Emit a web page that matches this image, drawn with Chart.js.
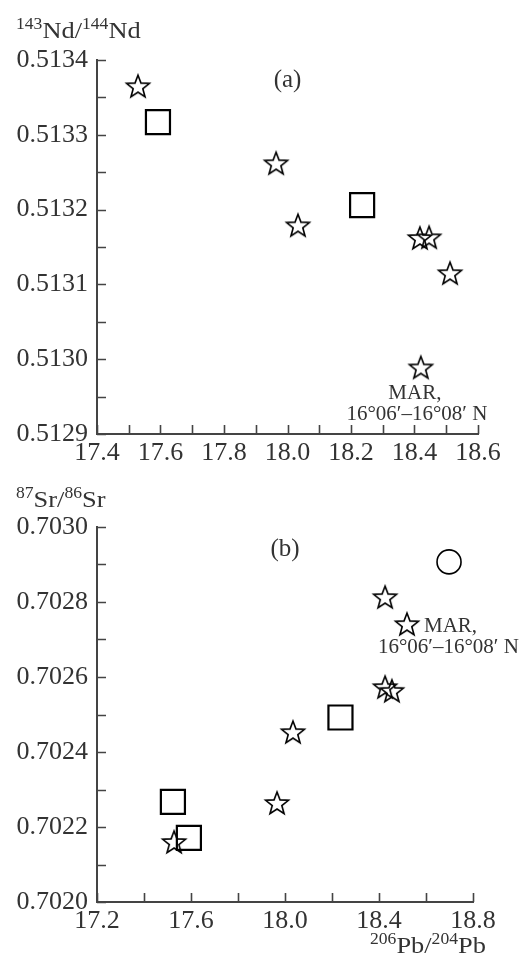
<!DOCTYPE html>
<html><head><meta charset="utf-8">
<script src="https://cdn.jsdelivr.net/npm/chart.js@4.4.0/dist/chart.umd.min.js"></script>
<style>
html,body{margin:0;padding:0;background:#fff;width:526px;height:961px;overflow:hidden}
canvas{position:absolute;left:0}
#c1{top:0}
#c2{top:480px}
</style></head><body>
<canvas id="c1" width="526" height="480"></canvas>
<canvas id="c2" width="526" height="481"></canvas>
<script>
// ---- Data: (a) 143Nd/144Nd vs 206Pb/204Pb ----
const ndStarPb  = [17.529, 17.964, 18.033, 18.417, 18.446, 18.512, 18.420];
const ndStarNd  = [0.513365, 0.513262, 0.513179, 0.513162, 0.513163, 0.513115, 0.512989];
const ndSquarePb = [17.592, 18.235];
const ndSquareNd = [0.513317, 0.513206];

// ---- Data: (b) 87Sr/86Sr vs 206Pb/204Pb ----
const srStarPb  = [18.426, 18.519, 18.426, 18.455, 18.034, 17.966, 17.528];
const srStarSr  = [0.702813, 0.702741, 0.702573, 0.702563, 0.702453, 0.702264, 0.702160];
const srSquarePb = [18.236, 17.523, 17.591];
const srSquareSr = [0.702492, 0.702267, 0.702171];
const srCirclePb = [18.698];
const srCircleSr = [0.702907];

// ---- Axis ticks ----
const ndXTicks = {min: 17.4, max: 18.6, step: 0.2, minor: 0.1};
const ndYTicks = {min: 0.5129, max: 0.5134, step: 0.0001, minor: 0.00005};
const srXTicks = {min: 17.2, max: 18.8, step: 0.4, minor: 0.2};
const srYTicks = {min: 0.7020, max: 0.7030, step: 0.0002, minor: 0.0001};

const SERIF = '"Liberation Serif", "Times New Roman", serif';
const TXT = '#333';
const AX = '#444';

function zip(xs, ys){ return xs.map((x,i)=>({x:x, y:ys[i]})); }

function makeStar(R, ratio, lw){
  const s = Math.ceil(2*R + lw*2 + 2);
  const c = document.createElement('canvas');
  c.width = s; c.height = s;
  const g = c.getContext('2d');
  g.translate(s/2, s/2 + R*0.08);
  g.beginPath();
  for (let i=0;i<10;i++){
    const a = -Math.PI/2 + i*Math.PI/5;
    const r = (i%2) ? R*ratio : R;
    const px = r*Math.cos(a), py = r*Math.sin(a);
    if (i===0) g.moveTo(px,py); else g.lineTo(px,py);
  }
  g.closePath();
  g.lineWidth = lw; g.strokeStyle = '#000'; g.lineJoin = 'miter';
  g.stroke();
  return c;
}
const starImg = makeStar(12, 0.42, 1.6);

function drawSuperText(ctx, parts, x, y, stretch){
  ctx.save();
  ctx.translate(x, y);
  ctx.scale(stretch, 1);
  ctx.fillStyle = TXT;
  ctx.textBaseline = 'alphabetic';
  ctx.textAlign = 'left';
  let cx = 0;
  for (const p of parts){
    if (p.sup){ ctx.font = '16px ' + SERIF; ctx.fillText(p.t, cx, -9); }
    else { ctx.font = '24px ' + SERIF; ctx.fillText(p.t, cx, 0); }
    cx += ctx.measureText(p.t).width;
  }
  ctx.restore();
}

const decorPlugin = {
  id: 'decor',
  afterDraw(chart, args, o){
    const ctx = chart.ctx, a = chart.chartArea, x = chart.scales.x, y = chart.scales.y;
    ctx.save();
    ctx.strokeStyle = AX; ctx.lineWidth = 1.6;
    ctx.beginPath();
    const nx = Math.round((o.xt.max - o.xt.min)/o.xt.minor);
    for (let i=0;i<=nx;i++){
      const px = Math.round(x.getPixelForValue(o.xt.min + i*o.xt.minor)) + 0.5;
      ctx.moveTo(px, a.bottom); ctx.lineTo(px, a.bottom - 9);
    }
    const ny = Math.round((o.yt.max - o.yt.min)/o.yt.minor);
    for (let i=0;i<=ny;i++){
      const py = Math.round(y.getPixelForValue(o.yt.min + i*o.yt.minor)) + 0.5;
      ctx.moveTo(a.left, py); ctx.lineTo(a.left + 9, py);
    }
    ctx.stroke();
    ctx.restore();
    // axis title (y)
    drawSuperText(ctx, o.yTitle, 16, o.yTitleBase, 1.1);
    if (o.xTitle) drawSuperText(ctx, o.xTitle, 370, o.xTitleBase, 1.1);
    // panel label
    ctx.save();
    ctx.fillStyle = TXT;
    ctx.font = '25px ' + SERIF;
    ctx.textAlign = 'center'; ctx.textBaseline = 'middle';
    ctx.fillText(o.panel.t, x.getPixelForValue(o.panel.x), y.getPixelForValue(o.panel.y));
    // MAR label
    const mx = x.getPixelForValue(o.mar.x), my = y.getPixelForValue(o.mar.y);
    ctx.font = '21px ' + SERIF;
    ctx.textBaseline = 'alphabetic';
    for (const ln of o.mar.lines){
      ctx.textAlign = ln.align;
      ctx.fillText(ln.t, mx + ln.dx, my + ln.dy);
    }
    ctx.restore();
  }
};

function makeChart(id, cfg){
  return new Chart(document.getElementById(id), {
    type: 'scatter',
    data: { datasets: cfg.datasets },
    options: {
      responsive: false,
      animation: false,
      devicePixelRatio: 1,
      layout: { padding: { top: cfg.top, right: cfg.right, left: 0, bottom: 0 } },
      plugins: { legend: {display:false}, tooltip: {enabled:false}, decor: cfg.decor },
      scales: {
        x: {
          type: 'linear', min: cfg.xt.min, max: cfg.xt.max,
          grid: { display: false, drawTicks: false },
          border: { display: true, color: AX, width: 2 },
          ticks: { stepSize: cfg.xt.step, padding: 4, color: TXT, maxRotation: 0,
                   font: { family: SERIF, size: 26 }, callback: v => Number(v).toFixed(1) },
          afterFit: s => { s.height = cfg.xh; }
        },
        y: {
          type: 'linear', min: cfg.yt.min, max: cfg.yt.max,
          grid: { display: false, drawTicks: false },
          border: { display: true, color: AX, width: 2 },
          ticks: { stepSize: cfg.yt.step, padding: 9, color: TXT,
                   font: { family: SERIF, size: 26 }, callback: v => Number(v).toFixed(4) },
          afterFit: s => { s.width = 97; }
        }
      }
    },
    plugins: [decorPlugin]
  });
}

const starDS = (d) => ({ data: d, pointStyle: starImg, pointRadius: 12, clip: false });
const squareDS = (d) => ({ data: d, pointStyle: 'rect', pointRadius: 17, pointBorderWidth: 2.2,
  pointBorderColor: '#000', pointBackgroundColor: 'rgba(0,0,0,0)', borderColor:'#000', backgroundColor:'rgba(0,0,0,0)', clip: false });
const circleDS = (d) => ({ data: d, pointStyle: 'circle', pointRadius: 12, pointBorderWidth: 1.6,
  pointBorderColor: '#000', pointBackgroundColor: 'rgba(0,0,0,0)', borderColor:'#000', backgroundColor:'rgba(0,0,0,0)', clip: false });

makeChart('c1', {
  top: 60, right: 48, xh: 46,
  xt: ndXTicks, yt: ndYTicks,
  datasets: [ starDS(zip(ndStarPb, ndStarNd)), squareDS(zip(ndSquarePb, ndSquareNd)) ],
  decor: {
    xt: ndXTicks, yt: ndYTicks,
    yTitle: [{t:'143',sup:true},{t:'Nd/'},{t:'144',sup:true},{t:'Nd'}], yTitleBase: 38,
    panel: {t:'(a)', x: 18.0, y: 0.513373},
    mar: { x: ndStarPb[6], y: ndStarNd[6], lines: [
      {t:'MAR,', dx:-6, dy:32, align:'center'},
      {t:'16°06′–16°08′ N', dx:-4, dy:53, align:'center'} ] }
  }
});

makeChart('c2', {
  top: 47, right: 53, xh: 59,
  xt: srXTicks, yt: srYTicks,
  datasets: [ starDS(zip(srStarPb, srStarSr)), squareDS(zip(srSquarePb, srSquareSr)), circleDS(zip(srCirclePb, srCircleSr)) ],
  decor: {
    xt: srXTicks, yt: srYTicks,
    yTitle: [{t:'87',sup:true},{t:'Sr/'},{t:'86',sup:true},{t:'Sr'}], yTitleBase: 27,
    xTitle: [{t:'206',sup:true},{t:'Pb/'},{t:'204',sup:true},{t:'Pb'}], xTitleBase: 473,
    panel: {t:'(b)', x: 18.0, y: 0.702941},
    mar: { x: srStarPb[1], y: srStarSr[1], lines: [
      {t:'MAR,', dx:17, dy:8, align:'left'},
      {t:'16°06′–16°08′ N', dx:-29, dy:29, align:'left'} ] }
  }
});
</script>
</body></html>
